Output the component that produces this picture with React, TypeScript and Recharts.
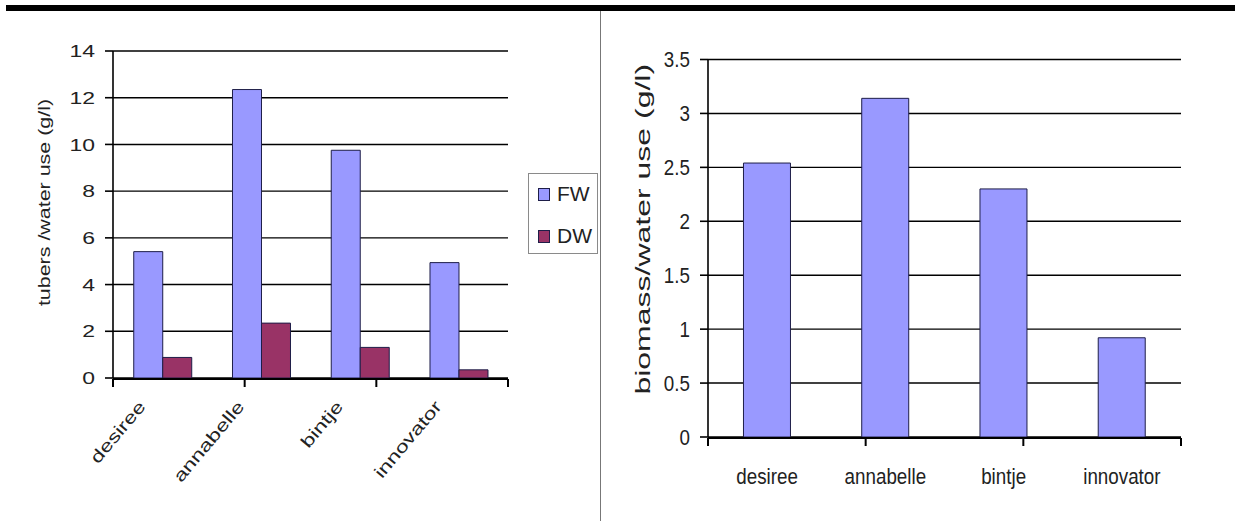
import React from 'react';
import { BarChart, Bar, XAxis, YAxis, CartesianGrid, Label } from 'recharts';

// cultivars and measured values
const cultivars = ['desiree', 'annabelle', 'bintje', 'innovator'];
const tuberFreshWeight = [5.41, 12.35, 9.75, 4.94];
const tuberDryWeight = [0.88, 2.35, 1.31, 0.35];
const biomassPerWater = [2.54, 3.14, 2.3, 0.92];
const tuberTicks = [0, 2, 4, 6, 8, 10, 12, 14];
const biomassTicks = [0, 0.5, 1, 1.5, 2, 2.5, 3, 3.5];
const seriesNames = ['FW', 'DW'];

const FW_COLOR = '#9999ff';
const DW_COLOR = '#993366';
const BAR_EDGE = '#1e1e48';
const FONT = '"Liberation Sans", Arial, sans-serif';
const seriesColors = [FW_COLOR, DW_COLOR];

const tuberData = cultivars.map((name, i) => ({
  name,
  FW: tuberFreshWeight[i],
  DW: tuberDryWeight[i],
}));
const biomassData = cultivars.map((name, i) => ({ name, biomass: biomassPerWater[i] }));
// category boundaries, used for the tick marks between groups
const edgeTicks = cultivars.map((_, i) => i).concat(cultivars.length);

const axisStroke = { stroke: '#000', strokeWidth: 1.6 };

const NoLabel = () => <g />;

// left chart text is drawn a bit wider than normal, as in the original
const LeftYTick = ({ x, y, payload }: any) => (
  <g transform={`translate(${x},${y})`}>
    <text textAnchor="end" dy="0.36em" transform="scale(1.35,1)" fontSize={17} fontFamily={FONT} fill="#222">
      {payload.value}
    </text>
  </g>
);

const LeftXTick = ({ x, y, payload }: any) => (
  <g transform={`translate(${x - 16},${y + 29}) rotate(-50)`}>
    <text textAnchor="end" transform="scale(1.35,1)" fontSize={17} fontFamily={FONT} fill="#222">
      {payload.value}
    </text>
  </g>
);

// right chart text is a little condensed and tall
const RightYTick = ({ x, y, payload }: any) => (
  <g transform={`translate(${x},${y})`}>
    <text textAnchor="end" dy="0.36em" transform="scale(0.94,1.1)" fontSize={20} fontFamily={FONT} fill="#222">
      {payload.value}
    </text>
  </g>
);

const RightXTick = ({ x, y, payload }: any) => (
  <g transform={`translate(${x},${y + 47})`}>
    <text textAnchor="middle" transform="scale(0.94,1.1)" fontSize={20} fontFamily={FONT} fill="#222">
      {payload.value}
    </text>
  </g>
);

const AxisTitle = ({ viewBox, text, dx, dy, size, stretch }: any) => {
  const cx = viewBox.x + dx;
  const cy = viewBox.y + viewBox.height / 2 + dy;
  return (
    <g transform={`translate(${cx},${cy}) rotate(-90)`}>
      <text textAnchor="middle" dy="0.35em" transform={`scale(${stretch},1)`} fontSize={size} fontFamily={FONT} fill="#222">
        {text}
      </text>
    </g>
  );
};

function TuberChart() {
  return (
    <BarChart
      width={600}
      height={521}
      data={tuberData}
      margin={{ top: 51, right: 92, bottom: 141, left: 20 }}
      barCategoryGap="21%"
      barGap={0}
    >
      <CartesianGrid vertical={false} stroke="#000" strokeWidth={1.4} />
      <XAxis
        xAxisId="edges"
        type="number"
        domain={[0, cultivars.length]}
        ticks={edgeTicks}
        interval={0}
        height={1}
        tick={NoLabel}
        tickSize={8}
        tickLine={{ stroke: '#000', strokeWidth: 2 }}
        axisLine={{ stroke: '#000', strokeWidth: 2 }}
        allowDataOverflow
      />
      <XAxis
        dataKey="name"
        height={1}
        axisLine={false}
        tickLine={false}
        tickSize={0}
        tickMargin={0}
        interval={0}
        tick={LeftXTick}
      />
      <YAxis
        domain={[0, 14]}
        ticks={tuberTicks}
        interval={0}
        width={93}
        tickSize={8}
        tickMargin={10}
        tickLine={axisStroke}
        axisLine={axisStroke}
        tick={LeftYTick}
      >
        <Label
          content={(p: any) => (
            <AxisTitle viewBox={p.viewBox} text="tubers /water use (g/l)" dx={24} dy={-12} size={16} stretch={1.34} />
          )}
        />
      </YAxis>
      <YAxis
        yAxisId="frame"
        orientation="right"
        type="number"
        width={0}
        domain={[0, 1]}
        tick={false}
        tickLine={false}
        axisLine={axisStroke}
      />
      <Bar dataKey="FW" fill={FW_COLOR} stroke={BAR_EDGE} strokeWidth={1} isAnimationActive={false} />
      <Bar dataKey="DW" fill={DW_COLOR} stroke={BAR_EDGE} strokeWidth={1} isAnimationActive={false} />
    </BarChart>
  );
}

function BiomassChart() {
  return (
    <BarChart
      width={635}
      height={521}
      data={biomassData}
      margin={{ top: 59.5, right: 54, bottom: 82, left: 20 }}
      barCategoryGap="30%"
    >
      <CartesianGrid vertical={false} stroke="#000" strokeWidth={1.4} />
      <XAxis
        xAxisId="edges"
        type="number"
        domain={[0, cultivars.length]}
        ticks={edgeTicks}
        interval={0}
        height={1}
        tick={NoLabel}
        tickSize={8}
        tickLine={{ stroke: '#000', strokeWidth: 2 }}
        axisLine={{ stroke: '#000', strokeWidth: 2 }}
        allowDataOverflow
      />
      <XAxis
        dataKey="name"
        height={1}
        axisLine={false}
        tickLine={false}
        tickSize={0}
        tickMargin={0}
        interval={0}
        tick={RightXTick}
      />
      <YAxis
        domain={[0, 3.5]}
        ticks={biomassTicks}
        interval={0}
        width={88}
        tickSize={8}
        tickMargin={10}
        tickLine={axisStroke}
        axisLine={axisStroke}
        tick={RightYTick}
      >
        <Label
          content={(p: any) => (
            <AxisTitle viewBox={p.viewBox} text="biomass/water use (g/l)" dx={22.5} dy={-19} size={20} stretch={1.6} />
          )}
        />
      </YAxis>
      <YAxis
        yAxisId="frame"
        orientation="right"
        type="number"
        width={0}
        domain={[0, 1]}
        tick={false}
        tickLine={false}
        axisLine={axisStroke}
      />
      <Bar dataKey="biomass" fill={FW_COLOR} stroke={BAR_EDGE} strokeWidth={1} isAnimationActive={false} />
    </BarChart>
  );
}

export default function App() {
  return (
    <div
      style={{
        position: 'absolute',
        left: 0,
        top: 0,
        width: 1235,
        height: 521,
        background: '#fff',
        overflow: 'hidden',
        fontFamily: FONT,
      }}
    >
      <div style={{ position: 'absolute', left: 6, top: 5, width: 1229, height: 6, background: '#000' }} />
      <div style={{ position: 'absolute', left: 600, top: 11, width: 1, height: 510, background: '#777' }} />
      <div style={{ position: 'absolute', left: 0, top: 0 }}>
        <TuberChart />
      </div>
      <div
        style={{
          position: 'absolute',
          left: 528,
          top: 173,
          width: 70,
          height: 81,
          boxSizing: 'border-box',
          border: '1px solid #8a8a8a',
          background: '#fff',
        }}
      >
        {seriesNames.map((name, i) => (
          <div
            key={name}
            style={{
              position: 'absolute',
              left: 9,
              top: 8 + i * 42,
              height: 24,
              display: 'flex',
              alignItems: 'center',
              fontSize: 21,
              color: '#222',
            }}
          >
            <span
              style={{
                display: 'inline-block',
                width: 12,
                height: 13,
                boxSizing: 'border-box',
                background: seriesColors[i],
                border: `1px solid ${BAR_EDGE}`,
                marginRight: 7,
              }}
            />
            <span>{name}</span>
          </div>
        ))}
      </div>
      <div style={{ position: 'absolute', left: 600, top: 0 }}>
        <BiomassChart />
      </div>
    </div>
  );
}
